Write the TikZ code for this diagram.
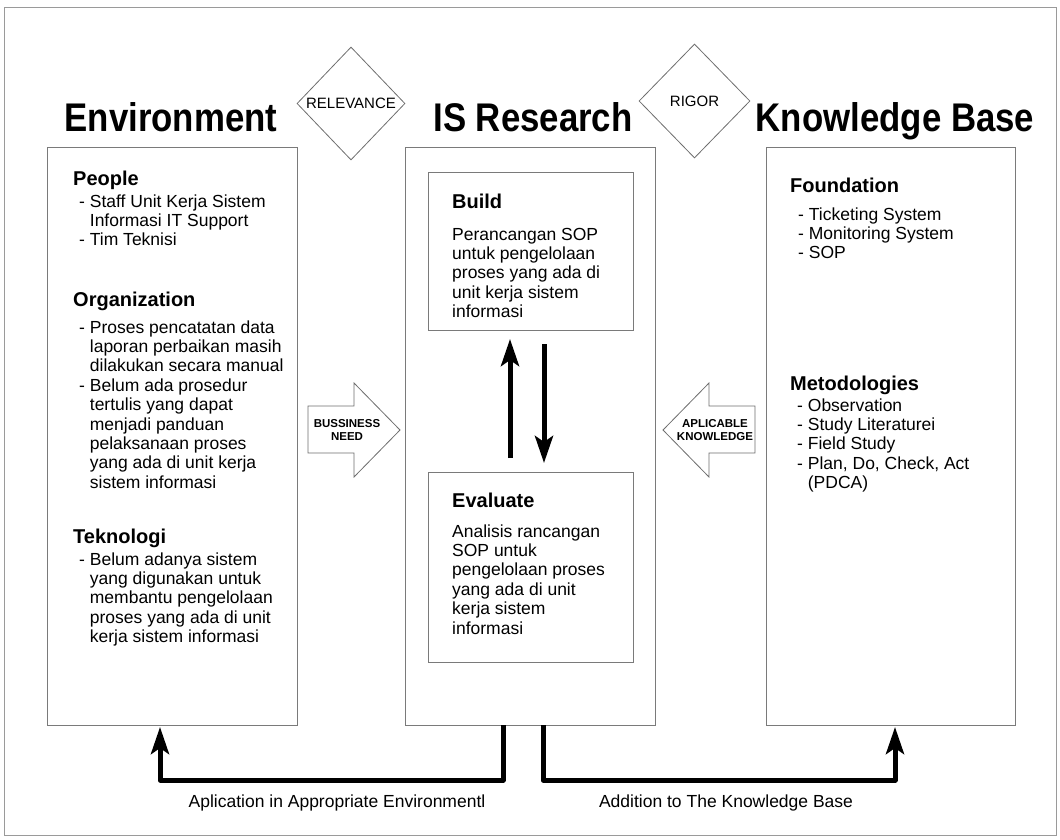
\documentclass[tikz,border=0pt]{standalone}
\usepackage{fontspec}
\setmainfont{Liberation Sans}
\newfontfamily\ttlfont[FakeStretch=0.87]{Liberation Sans}
\usetikzlibrary{arrows.meta,shapes.geometric}
\definecolor{boxgray}{HTML}{7A7A7A}
\definecolor{linegray}{HTML}{6E6E6E}
\definecolor{framegray}{HTML}{9A9A9A}
\begin{document}
\begin{tikzpicture}[x=1pt,y=-1pt,
 box/.style={draw=boxgray, line width=1.3pt, inner sep=0pt, anchor=north west},
 hd/.style={anchor=base west, inner sep=0pt, font=\fontsize{20}{24}\selectfont\bfseries},
 bd/.style={anchor=base west, inner sep=0pt, font=\fontsize{17.5}{19.4}\selectfont},
 ttl/.style={anchor=base, inner sep=0pt, font=\ttlfont\fontsize{40}{46}\selectfont\bfseries},
 dia/.style={diamond, draw=linegray, line width=0.8pt, inner sep=0pt, font=\fontsize{15}{18}\selectfont},
 blk/.style={draw=linegray, line width=0.8pt, fill=white},
 blklbl/.style={anchor=base, inner sep=0pt, font=\fontsize{11.5}{13.5}\selectfont\bfseries},
 fat/.style={line width=5pt, -{Stealth[length=27pt,width=18pt,inset=6pt]}},
 btm/.style={anchor=base, inner sep=0pt, font=\fontsize{17.5}{20}\selectfont},
]
\useasboundingbox (0,0) rectangle (1060,839);
\draw[framegray, line width=1pt] (4,7) rectangle (1056,835);

% titles
\node[ttl] (tenv) at (171,131) {Environment};
\node[ttl] (tis) at (533,131) {IS Research};
\node[ttl] (tkb) at (895,131) {Knowledge Base};

% diamonds
\node[dia, minimum width=108pt, minimum height=113pt] (rel) at (351,103.5) {RELEVANCE};
\node[dia, minimum width=111pt, minimum height=114pt] (rig) at (694.5,101) {RIGOR};

% main boxes
\node[box, minimum width=250pt, minimum height=578pt] (env) at (47,147) {};
\node[box, minimum width=250pt, minimum height=578pt] (isr) at (405,147) {};
\node[box, minimum width=249pt, minimum height=578pt] (kb) at (766,147) {};
\node[box, minimum width=205pt, minimum height=158pt] (build) at (428,172) {};
\node[box, minimum width=205pt, minimum height=190pt] (eval) at (428,472) {};

% environment text
\node[hd] (hpeople) at (73,185) {People};
\node[bd] (tpeople) at (79,207) {\begin{tabular}[t]{@{}l@{ }l@{}}
-&Staff Unit Kerja Sistem\\
 &Informasi IT Support\\
-&Tim Teknisi\end{tabular}};
\node[hd] (horg) at (73,306) {Organization};
\node[bd] (torg) at (79,333) {\begin{tabular}[t]{@{}l@{ }l@{}}
-&Proses pencatatan data\\
 &laporan perbaikan masih\\
 &dilakukan secara manual\\
-&Belum ada prosedur\\
 &tertulis yang dapat\\
 &menjadi panduan\\
 &pelaksanaan proses\\
 &yang ada di unit kerja\\
 &sistem informasi\end{tabular}};
\node[hd] (htek) at (73,543) {Teknologi};
\node[bd] (ttek) at (79,565) {\begin{tabular}[t]{@{}l@{ }l@{}}
-&Belum adanya sistem\\
 &yang digunakan untuk\\
 &membantu pengelolaan\\
 &proses yang ada di unit\\
 &kerja sistem informasi\end{tabular}};

% build / evaluate text
\node[hd] (hbuild) at (452,208) {Build};
\node[bd] (tbuild) at (452,240) {\begin{tabular}[t]{@{}l@{}}
Perancangan SOP\\
untuk pengelolaan\\
proses yang ada di\\
unit kerja sistem\\
informasi\end{tabular}};
\node[hd] (heval) at (452,507) {Evaluate};
\node[bd] (teval) at (452,537) {\begin{tabular}[t]{@{}l@{}}
Analisis rancangan\\
SOP untuk\\
pengelolaan proses\\
yang ada di unit\\
kerja sistem\\
informasi\end{tabular}};

% knowledge base text
\node[hd] (hfound) at (790,192) {Foundation};
\node[bd] (tfound) at (798,220) {\begin{tabular}[t]{@{}l@{ }l@{}}
-&Ticketing System\\
-&Monitoring System\\
-&SOP\end{tabular}};
\node[hd] (hmet) at (790,390) {Metodologies};
\node[bd] (tmet) at (797,411) {\begin{tabular}[t]{@{}l@{ }l@{}}
-&Observation\\
-&Study Literaturei\\
-&Field Study\\
-&Plan, Do, Check, Act\\
 &(PDCA)\end{tabular}};

% block arrows
\draw[blk] (308,406) -- (354,406) -- (354,383) -- (400,430) -- (354,477) -- (354,453) -- (308,453) -- cycle;
\node[blklbl] (lbn) at (347,427) {\begin{tabular}[t]{@{}c@{}}BUSSINESS\\NEED\end{tabular}};
\draw[blk] (755,406) -- (709,406) -- (709,383) -- (663,430) -- (709,477) -- (709,453) -- (755,453) -- cycle;
\node[blklbl] (lak) at (715,427) {\begin{tabular}[t]{@{}c@{}}APLICABLE\\KNOWLEDGE\end{tabular}};

% up / down arrows between build and evaluate
\coordinate (upS) at (510,458);
\coordinate (upE) at (510,339);
\coordinate (dnS) at (544,344);
\coordinate (dnE) at (544,463);
\draw[fat] (upS) -- (upE);
\draw[fat] (dnS) -- (dnE);

% bottom feedback arrows
\coordinate (isL) at (503,725);
\coordinate (isR) at (543,725);
\coordinate (envB) at (160,727);
\coordinate (kbB) at (895,727);
\draw[fat, line join=round] (isL) -- ++(0,55) -| (envB);
\draw[fat, line join=round] (isR) -- ++(0,55) -| (kbB);

\node[btm] (lapp) at (337,807) {Aplication in Appropriate Environmentl};
\node[btm] (ladd) at (726,807) {Addition to The Knowledge Base};
\end{tikzpicture}
\end{document}
